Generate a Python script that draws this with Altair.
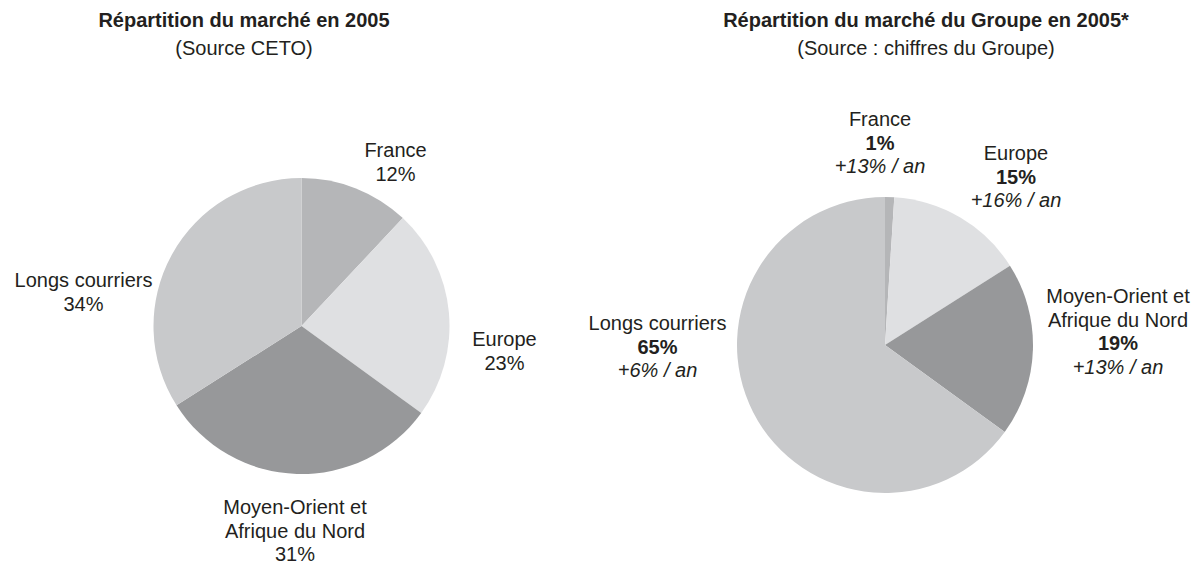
import altair as alt
import pandas as pd

# ---------------- data ----------------
categories = ["France", "Europe", "Moyen-Orient et Afrique du Nord", "Longs courriers"]
category_lines = [["France"], ["Europe"], ["Moyen-Orient et", "Afrique du Nord"], ["Longs courriers"]]
market_share_2005 = [12, 23, 31, 34]          # Source CETO
group_share_2005 = [1, 15, 19, 65]            # Source : chiffres du Groupe
group_growth = [13, 16, 13, 6]                # % / an

left_title = "Répartition du marché en 2005"
left_subtitle = "(Source CETO)"
right_title = "Répartition du marché du Groupe en 2005*"
right_subtitle = "(Source : chiffres du Groupe)"

# ---------------- style / layout ----------------
slice_colors = ["#b5b6b8", "#dfe0e2", "#97989a", "#c8c9cb"]
FONT = "Liberation Sans"
TEXT_COLOR = "#231f20"
M = 8                      # page margin
W, H = 1187, 558
R = 148
left_center = (301.5, 326)
right_center = (885, 345)
left_label_pos = [(395.5, 157), (504.5, 346), (295, 514), (83.5, 287)]
right_label_pos = [(880, 126), (1016, 160), (1118, 303), (657.5, 330)]
LINE = 23.5
left_title_x, right_title_x = 244, 926
title_y, subtitle_y = 26.5, 55

color_scale = alt.Scale(domain=categories, range=slice_colors)


def pie(values, center):
    df = pd.DataFrame({"category": categories, "value": values,
                       "order": list(range(len(categories)))})
    return alt.Chart(df).mark_arc(
        radius=R, x=center[0] - M, y=center[1] - M
    ).encode(
        theta=alt.Theta("value:Q", stack=True),
        color=alt.Color("category:N", scale=color_scale, legend=None),
        order=alt.Order("order:Q"),
    )


rows = []
# left pie labels
for lines, v, (x, y) in zip(category_lines, market_share_2005, left_label_pos):
    k = 0
    for ln in lines:
        rows.append({"text": ln, "lx": x - M, "ly": y - M + k * LINE, "style": "normal"})
        k += 1
    rows.append({"text": f"{v}%", "lx": x - M, "ly": y - M + k * LINE, "style": "normal"})
# right pie labels
for lines, v, g, (x, y) in zip(category_lines, group_share_2005, group_growth, right_label_pos):
    k = 0
    for ln in lines:
        rows.append({"text": ln, "lx": x - M, "ly": y - M + k * LINE, "style": "normal"})
        k += 1
    rows.append({"text": f"{v}%", "lx": x - M, "ly": y - M + k * LINE, "style": "bold"})
    k += 1
    rows.append({"text": f"+{g}% / an", "lx": x - M, "ly": y - M + k * LINE, "style": "italic"})
# titles
rows.append({"text": left_title, "lx": left_title_x - M, "ly": title_y - M, "style": "bold"})
rows.append({"text": left_subtitle, "lx": left_title_x - M, "ly": subtitle_y - M, "style": "normal"})
rows.append({"text": right_title, "lx": right_title_x - M, "ly": title_y - M, "style": "bold"})
rows.append({"text": right_subtitle, "lx": right_title_x - M, "ly": subtitle_y - M, "style": "normal"})

labels = pd.DataFrame(rows)


def text_layer(style, **kw):
    return alt.Chart(labels[labels["style"] == style]).mark_text(
        font=FONT, fontSize=20, color=TEXT_COLOR, align="center",
        baseline="alphabetic", **kw
    ).encode(
        x=alt.X("lx:Q", scale=None, axis=None),
        y=alt.Y("ly:Q", scale=None, axis=None),
        text="text:N",
    )


chart = alt.layer(
    pie(market_share_2005, left_center),
    pie(group_share_2005, right_center),
    text_layer("normal"),
    text_layer("bold", fontWeight="bold"),
    text_layer("italic", fontStyle="italic"),
).resolve_scale(theta="independent").properties(
    width=W, height=H, autosize="none", padding=0, background="white"
).configure_view(stroke=None)

chart.save("out.html", embed_options={"renderer": "svg", "actions": False})
